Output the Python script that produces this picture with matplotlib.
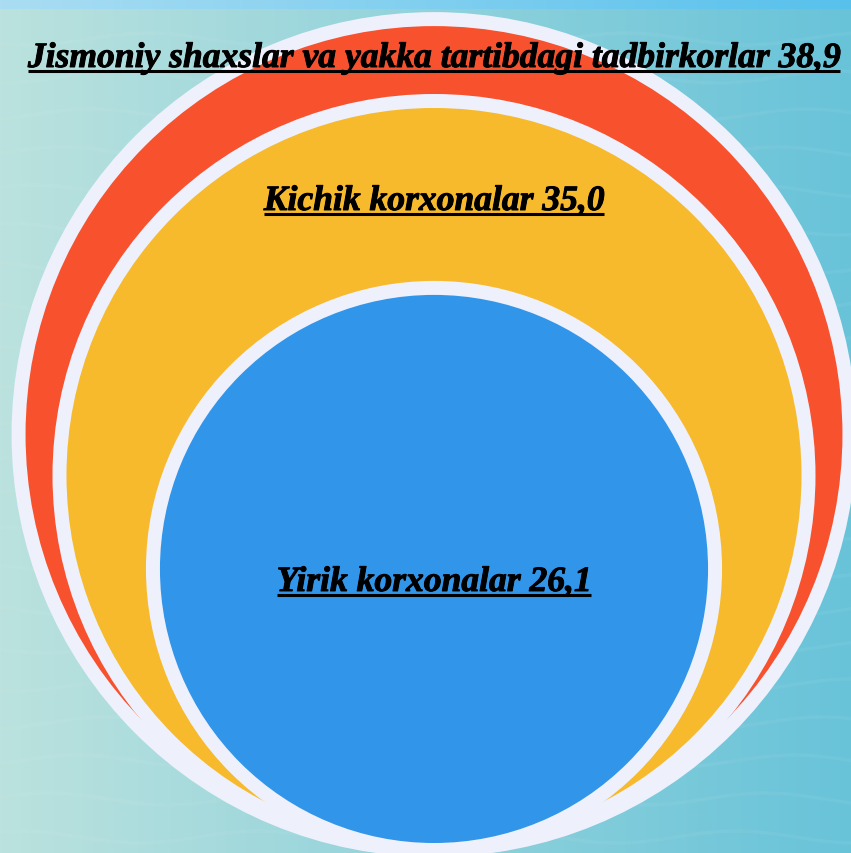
import matplotlib
matplotlib.use("Agg")
import matplotlib.pyplot as plt
import matplotlib.patheffects as pe
import numpy as np
from matplotlib.patches import Circle
from matplotlib.colors import to_rgb

labels = ["Jismoniy shaxslar va yakka tartibdagi tadbirkorlar",
          "Kichik korxonalar",
          "Yirik korxonalar"]
values = [38.9, 35.0, 26.1]
value_text = ["38,9", "35,0", "26,1"]
colors = ["#F7512E", "#F6BA2C", "#3195EA"]

W, H = 851, 854
PX_PER_UNIT = 10.5      # circle radius = value * PX_PER_UNIT
CX, BOTTOM = 434, 844   # all circles touch at the bottom
RING = 14
RING_COLOR = "#EEF0FC"
LABEL_BASELINE = [68, 211, 592]


def background(ax):
    left, right = np.array(to_rgb("#BBE2DE")), np.array(to_rgb("#68C3D9"))
    t = np.linspace(0, 1, W)[None, :, None]
    img = np.repeat(left + (right - left) * t, H, axis=0)
    top_l, top_r = np.array(to_rgb("#AADDF3")), np.array(to_rgb("#57C1EC"))
    img[:10] = top_l + (top_r - top_l) * t[0]
    ax.imshow(img, extent=[0, W, H, 0], zorder=0, aspect="auto")
    # faint decorative waves
    xs = np.linspace(0, W, 400)
    for y0 in range(40, H, 38):
        ax.plot(xs, y0 + 6 * np.sin(xs / 38.0 + y0 / 50.0), color="white",
                alpha=0.05, linewidth=2.5, zorder=1)


fig = plt.figure(figsize=(W / 100, H / 100), dpi=100)
ax = fig.add_axes([0, 0, 1, 1])
ax.set_xlim(0, W)
ax.set_ylim(H, 0)
ax.axis("off")
background(ax)

z = 2
for v, c in zip(values, colors):
    r = v * PX_PER_UNIT
    cy = BOTTOM - r
    ax.add_patch(Circle((CX, cy), r + RING, facecolor=RING_COLOR, edgecolor="none", zorder=z))
    ax.add_patch(Circle((CX, cy), r, facecolor=c, edgecolor="none", zorder=z + 1))
    z += 2

texts = []
for lab, vt, yb in zip(labels, value_text, LABEL_BASELINE):
    t = ax.text(CX, yb, f"{lab} {vt}", ha="center", va="baseline",
                fontsize=25.6, fontweight="bold", fontstyle="italic",
                family="Liberation Serif", color="black", zorder=20,
                path_effects=[pe.withStroke(linewidth=0.7, foreground="black")])
    texts.append((t, yb))

# underline each label
fig.canvas.draw()
inv = ax.transData.inverted()
for t, yb in texts:
    bb = t.get_window_extent()
    x0, _ = inv.transform((bb.x0, bb.y0))
    x1, _ = inv.transform((bb.x1, bb.y0))
    ax.plot([x0, x1], [yb + 4, yb + 4], color="black", linewidth=2.2,
            solid_capstyle="butt", zorder=20)

fig.savefig("out.png", dpi=100)
